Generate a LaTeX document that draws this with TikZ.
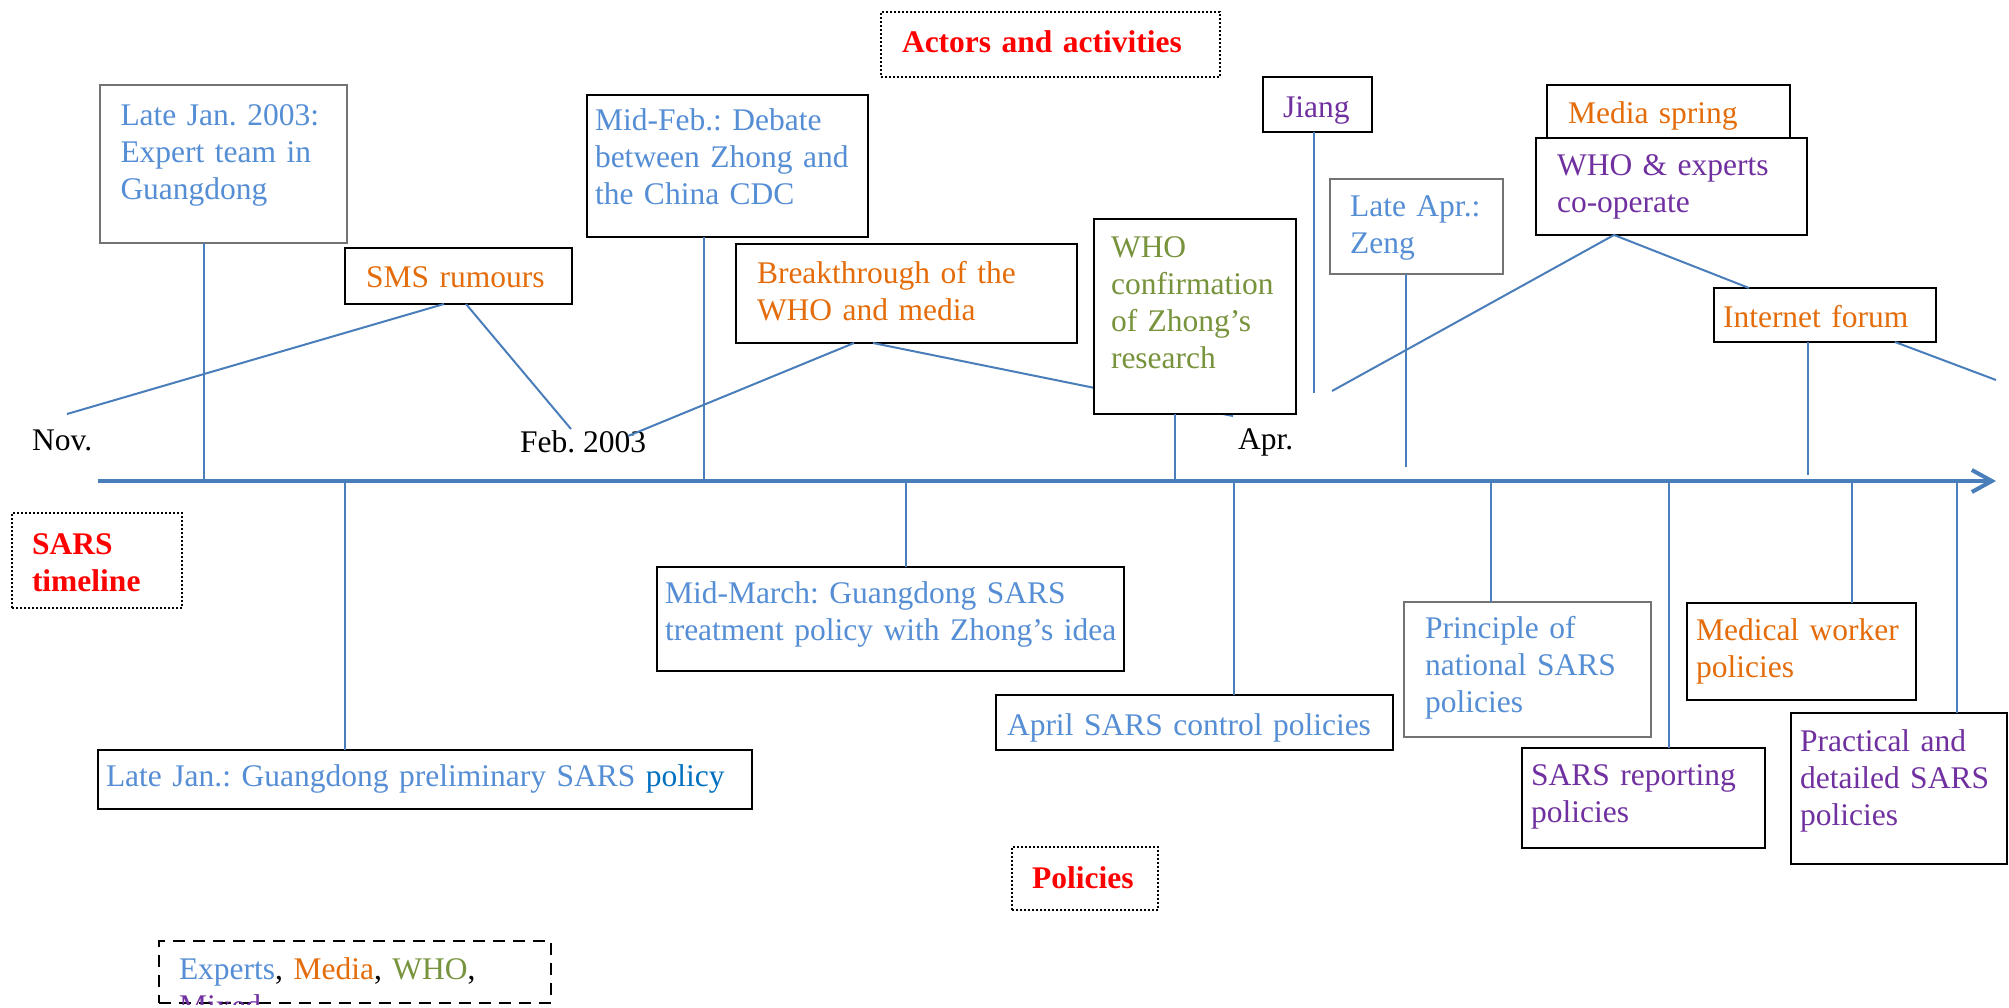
\documentclass[tikz,border=0pt]{standalone}
\usepackage{fontspec}
\setmainfont{Liberation Serif}
\usetikzlibrary{arrows.meta}
\frenchspacing
\hyphenpenalty=10000
\exhyphenpenalty=10000

\definecolor{expblue}{RGB}{85,142,213}
\definecolor{polblue}{RGB}{0,112,192}
\definecolor{medorange}{RGB}{228,108,10}
\definecolor{whogreen}{RGB}{119,147,60}
\definecolor{mixpurple}{RGB}{112,48,160}
\definecolor{linkblue}{RGB}{74,126,187}
\definecolor{boxgray}{RGB}{115,115,115}

\tikzset{
  every node/.style={font=\fontsize{31.5}{37}\selectfont},
  evbox/.style={draw, line width=2pt, fill=white, anchor=north west, inner ysep=0pt, outer sep=0pt, align=left},
  grbox/.style={evbox, draw=boxgray},
  tagbox/.style={evbox, dotted, text=red, font=\fontsize{31.5}{37}\selectfont\bfseries},
  datetxt/.style={anchor=base west, inner sep=0pt},
  link/.style={linkblue, line width=2pt},
}

\begin{document}
\begin{tikzpicture}[x=1pt, y=-1pt]
  \useasboundingbox (0,0) rectangle (2009,1007);

  % time axis and the points on it
  \coordinate (axstart) at (98,481);
  \coordinate (axend) at (1996,481);
  \coordinate (a1) at (204,481);
  \coordinate (a2) at (704,481);
  \coordinate (a3) at (1175,481);
  \coordinate (b1) at (345,481);
  \coordinate (b2) at (906,481);
  \coordinate (b3) at (1234,481);
  \coordinate (b4) at (1491,481);
  \coordinate (b5) at (1669,481);
  \coordinate (b6) at (1852,481);
  \coordinate (b7) at (1957,481);
  \coordinate (jiangend) at (1314,393);
  \coordinate (zengend) at (1406,467);
  \coordinate (forumend) at (1808,475);
  \coordinate (novend) at (67,414);
  \coordinate (febin) at (571,429);
  \coordinate (febout) at (628,436);
  \coordinate (aprin) at (1233,416);
  \coordinate (aprout) at (1332,391);
  \coordinate (rightend) at (1996,380);

  \node[datetxt] (nov) at (32,450) {Nov.};
  \node[datetxt] (feb) at (520,452) {Feb. 2003};
  \node[datetxt] (apr) at (1238,449) {Apr.};

  % actors and activities
  \node[tagbox, text width=297pt, inner xsep=21pt, text height=40pt, text depth=25pt] (actors) at (881,12) {Actors and activities};
  \node[grbox, text=expblue, text width=206pt, inner xsep=20.5pt, text height=40pt, text depth=118pt] (latejan) at (100,85) {Late Jan. 2003:\\Expert team in\\Guangdong};
  \node[evbox, text=medorange, text width=185pt, inner xsep=21pt, text height=39pt, text depth=17pt] (sms) at (345,248) {SMS rumours};
  \node[evbox, text=expblue, text width=265pt, inner xsep=8pt, text height=35pt, text depth=107pt] (midfeb) at (587,95) {Mid-Feb.: Debate\\between Zhong and\\the China CDC};
  \node[evbox, text=medorange, text width=299pt, inner xsep=21pt, text height=39pt, text depth=60pt] (breakthr) at (736,244) {Breakthrough of the\\WHO and media};
  \draw[link] ([xshift=-33.5pt]breakthr.south) -- (aprin);
  \node[evbox, text=whogreen, text width=168pt, inner xsep=17pt, text height=38pt, text depth=157pt] (whoconf) at (1094,219) {WHO\\confirmation\\of Zhong’s\\research};
  \node[evbox, text=mixpurple, text width=69pt, inner xsep=20pt, text height=40pt, text depth=15pt] (jiang) at (1263,77) {Jiang};
  \node[grbox, text=expblue, text width=133pt, inner xsep=20pt, text height=37pt, text depth=58pt] (lateapr) at (1330,179) {Late~Apr.:\\Zeng};
  \node[evbox, text=medorange, text width=201pt, inner xsep=21pt, text height=38pt, text depth=27pt] (mediaspr) at (1547,85) {Media spring};
  \node[evbox, text=mixpurple, text width=229pt, inner xsep=21pt, text height=37pt, text depth=60pt] (whoexp) at (1536,138) {WHO \& experts\\co-operate};
  \node[evbox, text=medorange, text width=204pt, inner xsep=9pt, text height=39pt, text depth=15pt] (forum) at (1714,288) {Internet forum};

  \draw[link] (novend) -- ([xshift=-14.5pt]sms.south);
  \draw[link] ([xshift=7.5pt]sms.south) -- (febin);
  \draw[link] (febout) -- ([xshift=-52.5pt]breakthr.south);
  \draw[link] (aprout) -- ([xshift=-57.5pt]whoexp.south);
  \draw[link] ([xshift=-57.5pt]whoexp.south) -- ([xshift=-76pt]forum.north);
  \draw[link] ([xshift=70pt]forum.south) -- (rightend);

  \draw[link] (latejan.south -| a1) -- (a1);
  \draw[link] (midfeb.south -| a2) -- (a2);
  \draw[link] (whoconf.south -| a3) -- (a3);
  \draw[link] (jiang.south -| jiangend) -- (jiangend);
  \draw[link] (lateapr.south -| zengend) -- (zengend);
  \draw[link] (forum.south -| forumend) -- (forumend);

  % policies
  \node[tagbox, text width=130pt, inner xsep=20pt, text height=41pt, text depth=54pt] (sarstl) at (12,513) {SARS\\timeline};
  \node[evbox, text=expblue, text width=638pt, inner xsep=8pt, text height=36pt, text depth=23pt] (janpol) at (98,750) {Late Jan.: Guangdong preliminary SARS \textcolor{polblue}{policy}};
  \node[evbox, text=expblue, text width=451pt, inner xsep=8pt, text height=36pt, text depth=68pt] (midmarch) at (657,567) {Mid-March:~Guangdong~SARS\\treatment~policy~with~Zhong’s~idea};
  \node[evbox, text=expblue, text width=375pt, inner xsep=11pt, text height=40pt, text depth=15pt] (aprpol) at (996,695) {April~SARS~control~policies};
  \node[grbox, text=expblue, text width=205pt, inner xsep=21pt, text height=36pt, text depth=99pt] (principle) at (1404,602) {Principle of\\national SARS\\policies};
  \node[evbox, text=mixpurple, text width=225pt, inner xsep=9pt, text height=37pt, text depth=63pt] (reporting) at (1522,748) {SARS reporting\\policies};
  \node[evbox, text=medorange, text width=211pt, inner xsep=9pt, text height=37pt, text depth=60pt] (medical) at (1687,603) {Medical worker\\policies};
  \node[evbox, text=mixpurple, text width=198pt, inner xsep=9pt, text height=38pt, text depth=113pt] (practical) at (1791,713) {Practical and\\detailed SARS\\policies};
  \node[tagbox, text width=106pt, inner xsep=20pt, text height=41pt, text depth=22pt] (policies) at (1012,847) {Policies};

  \draw[link] (b1) -- (b1 |- janpol.north);
  \draw[link] (b2) -- (b2 |- midmarch.north);
  \draw[link] (b3) -- (b3 |- aprpol.north);
  \draw[link] (b4) -- (b4 |- principle.north);
  \draw[link] (b5) -- (b5 |- reporting.north);
  \draw[link] (b6) -- (b6 |- medical.north);
  \draw[link] (b7) -- (b7 |- practical.north);

  \draw[linkblue, line width=4pt, -{Straight Barb[length=20pt, width=22pt]}] (axstart) -- (axend);

  % colour key, cut at the bottom
  \begin{scope}
    \clip (150,930) rectangle (560,1004);
    \node[evbox, dash pattern=on 12pt off 8pt, text width=352pt, inner xsep=20pt, text height=38pt, text depth=24pt] (legend) at (159,941) {\textcolor{expblue}{Experts}, \textcolor{medorange}{Media}, \textcolor{whogreen}{WHO},\\\textcolor{mixpurple}{Mixed}};
  \end{scope}
\end{tikzpicture}
\end{document}
